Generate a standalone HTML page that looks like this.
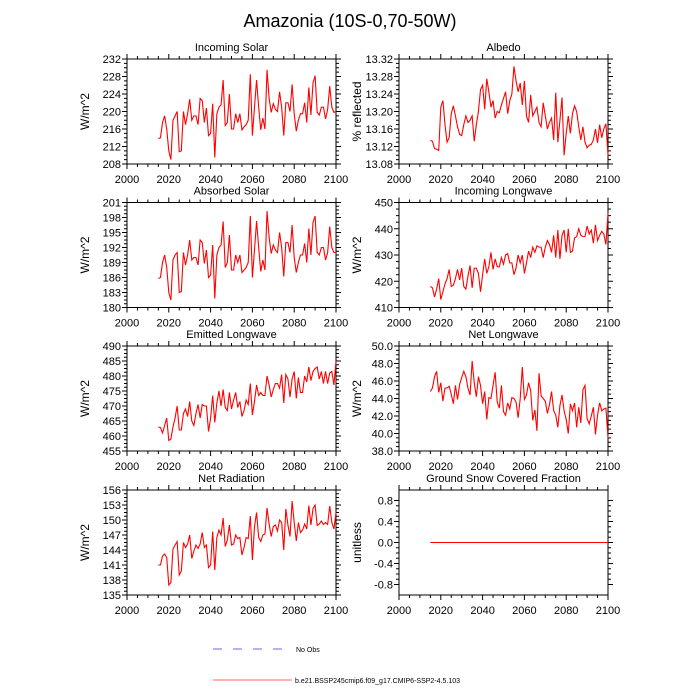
<!DOCTYPE html>
<html><head><meta charset="utf-8"><style>
body{margin:0;background:#fff;}
svg{display:block;font-family:"Liberation Sans",sans-serif;}
</style></head><body>
<svg id="c" width="700" height="700" viewBox="0 0 700 700">
<text x="350" y="27" font-size="18" text-anchor="middle">Amazonia (10S-0,70-50W)</text>
<g>
<line x1="213" y1="649" x2="288" y2="649" stroke="#6666ee" stroke-width="1" stroke-dasharray="9,11"/>
<text x="296" y="652" font-size="7">No Obs</text>
<line x1="213" y1="680" x2="292" y2="680" stroke="#ff6666" stroke-width="1"/>
<text x="295" y="683" font-size="7">b.e21.BSSP245cmip6.f09_g17.CMIP6-SSP2-4.5.103</text>
</g>
</svg>
<script>
const startYear = 2015;
const xTicks = [2000, 2020, 2040, 2060, 2080, 2100];
const incomingSolar = [213.8,214,217.5,219,216,211,209,218,219,220,210.8,211,220,217,219.5,222.8,218,219,219,217,223,222.5,217.5,220.8,214.5,215,221.8,209.5,219.5,221,221.5,227.2,216.8,217.5,224,216,216,219.5,217.5,219.5,215.8,216.5,217,218,228.5,214.5,221,227.2,221,215.8,218.5,216,229.5,223,219.8,221.8,220.5,220,224.5,221,214.5,222,222,220,226.2,219.5,215.5,218,219.5,219.5,222,217.5,225.5,219.2,226.5,228.2,219.8,219.2,221,221,218.3,220.5,225.8,221,219.8,220];
const albedo = [13.134,13.132,13.115,13.114,13.111,13.21,13.225,13.17,13.13,13.14,13.195,13.213,13.19,13.165,13.148,13.145,13.17,13.19,13.175,13.18,13.19,13.132,13.17,13.2,13.25,13.26,13.205,13.275,13.245,13.21,13.225,13.185,13.2,13.197,13.215,13.23,13.245,13.195,13.225,13.24,13.303,13.27,13.245,13.265,13.215,13.27,13.19,13.175,13.238,13.19,13.2,13.21,13.175,13.165,13.22,13.19,13.16,13.175,13.185,13.135,13.243,13.13,13.18,13.232,13.1,13.15,13.19,13.15,13.195,13.213,13.2,13.165,13.135,13.165,13.13,13.117,13.123,13.125,13.135,13.16,13.128,13.17,13.14,13.16,13.172,13.1];
const absorbedSolar = [185.8,186,189,190.5,188,183,181.5,189.5,190.5,191,183,183.2,191,188.5,190.5,193.5,189.5,190,190,188.5,193.5,193,188.8,191.5,186,186.5,192.5,181.8,190.5,192,192.5,197.2,188,189,194.5,187.5,187.5,190.5,189,190.5,187,187.5,188,189,198.3,186,191.5,197.3,192,187.2,189.5,187.5,199.3,194,190.8,192.5,191.5,191,195,192,186.2,193,193,191,196.5,190,187,189,190.5,190.5,192.8,189,195.8,190.5,197,198.3,191,190.5,192,192,189.5,191,196.2,192,191,191];
const incomingLW = [418,417.5,414,417,421,413,416,419,421,424.5,418,418.5,421,424.5,420.5,425,418,417,422,426,417.5,425,425,423,416,422.5,428.5,423,425.5,431,424.5,428.5,425.5,425.5,429,426.5,430,430.5,427,427,422.5,425,430,427,430,423,427,431.5,429,433,431,433.5,433,433,429,433,435.5,434,431,437.5,429,439.5,428.5,437.5,439.5,431,440,431,431.5,436.5,437,440,437.5,437,437,441,438,439.5,434.5,441.5,435.5,437.5,439,438,434,446];
const emittedLW = [463,462.8,461,463.5,466,458.5,459,463,466,470,462,462,467.5,469,466.5,471.5,465,463.5,467.5,470.5,466,470.5,470,470,461.5,466,473.5,464.5,471,475,470,475.5,469.5,468.5,474.5,469,472,474.5,469.5,471.5,466.5,468.5,472,470.5,477.5,467,471.5,477,473.5,474.5,473.5,473.5,480,477,473,475.5,477.5,477.5,476,480.5,471,480.5,479,473,479,481.5,472.5,479.5,474.5,474.5,480,478,483,478.5,481.5,482.5,483,479,481.5,477.5,481.5,477.5,481,481.5,477,485];
const netLW = [44.8,45.2,46.5,47.1,44.7,45.8,43.7,45.2,45.2,45.4,44.5,43.4,45.5,43.9,45.6,46.4,47.1,46.5,45.2,44.4,48.3,45.8,44.2,46.5,45.5,43.4,44.8,41.6,44.1,44.0,45.5,47.0,43.6,42.9,45.5,42.5,42.1,43.5,42.8,44.1,44.0,43.6,41.8,44.0,47.6,43.9,44.4,45.8,44.9,41.5,42.7,40.3,46.9,44.3,44.0,43.7,42.3,43.3,44.8,42.6,42.1,40.7,43.2,44.4,42.6,41.6,40.0,43.4,42.6,43.5,40.7,43.0,41.2,45.0,45.5,41.7,41.1,42.0,43.0,39.9,42.1,43.5,42.6,42.8,42.9,39.5];
const netRadiation = [141,141,142.8,143.2,142.5,137,137.5,144.2,145,145.7,139,139.8,145.5,144.5,145.2,147,142.3,143.8,145,144.3,145.2,147.5,144.5,145,140.5,141,147.7,140,146.5,148,147,150.4,144.7,146,149,145,145.2,147,146.3,146.5,143,144.5,146.5,146.3,150.8,142,148.7,151.5,146.5,145.7,147,147.2,152.4,149.2,146.7,148.7,149,147.8,150,149.5,144,152.2,149,146.7,153.8,149.5,145.8,149.5,147.5,148,149.2,148.2,152.9,149,152.3,153,148.9,149.2,149.8,149.1,149.5,149.1,152.8,149.5,148.2,151.5];
const snowFraction = new Array(86).fill(0);

const panels = [
 {name:'incoming-solar', title:'Incoming Solar', ylab:'W/m^2', data:incomingSolar, ymin:208, ymax:232, ticks:[208,212,216,220,224,228,232], dec:0, col:0, row:0},
 {name:'albedo', title:'Albedo', ylab:'% reflected', data:albedo, ymin:13.08, ymax:13.32, ticks:[13.08,13.12,13.16,13.20,13.24,13.28,13.32], dec:2, col:1, row:0},
 {name:'absorbed-solar', title:'Absorbed Solar', ylab:'W/m^2', data:absorbedSolar, ymin:180, ymax:201, ticks:[180,183,186,189,192,195,198,201], dec:0, col:0, row:1},
 {name:'incoming-longwave', title:'Incoming Longwave', ylab:'W/m^2', data:incomingLW, ymin:410, ymax:450, ticks:[410,420,430,440,450], dec:0, col:1, row:1},
 {name:'emitted-longwave', title:'Emitted Longwave', ylab:'W/m^2', data:emittedLW, ymin:455, ymax:490, ticks:[455,460,465,470,475,480,485,490], dec:0, col:0, row:2},
 {name:'net-longwave', title:'Net Longwave', ylab:'W/m^2', data:netLW, ymin:38, ymax:50, ticks:[38,40,42,44,46,48,50], dec:1, col:1, row:2},
 {name:'net-radiation', title:'Net Radiation', ylab:'W/m^2', data:netRadiation, ymin:135, ymax:156, ticks:[135,138,141,144,147,150,153,156], dec:0, col:0, row:3},
 {name:'ground-snow', title:'Ground Snow Covered Fraction', ylab:'unitless', data:snowFraction, ymin:-1, ymax:1, ticks:[-0.8,-0.4,0,0.4,0.8], dec:1, col:1, row:3}
];
const colX = [127, 399], W = 209, H = 105;
const rowY = [59, 202.5, 346, 490];
const svg = document.getElementById('c');
const NS = 'http://www.w3.org/2000/svg';
function mk(tag, attrs, parent){ const e=document.createElementNS(NS,tag); for(const k in attrs) e.setAttribute(k,attrs[k]); parent.appendChild(e); return e; }

panels.forEach(p=>{
  const x0=colX[p.col], y0=rowY[p.row];
  const g=mk('g',{},svg);
  
  
  const sx=v=>x0+(v-2000)/100*W;
  const sy=v=>y0+H-(v-p.ymin)/(p.ymax-p.ymin)*H;
  for(let yr=2000; yr<=2100; yr+=5){
    const maj = yr%20===0, L = maj?5:3;
    const x=sx(yr);
    mk('line',{x1:x,y1:y0,x2:x,y2:y0-L,stroke:'#000','stroke-width':1},g);
    mk('line',{x1:x,y1:y0+H,x2:x,y2:y0+H+L,stroke:'#000','stroke-width':1},g);
  }
  const step=p.ticks[1]-p.ticks[0];
  for(let i=0;i<p.ticks.length-1;i++){
    for(let k=1;k<4;k++){
      const y=sy(p.ticks[i]+step*k/4);
      mk('line',{x1:x0,y1:y,x2:x0-3,y2:y,stroke:'#000','stroke-width':1},g);
      mk('line',{x1:x0+W,y1:y,x2:x0+W+3,y2:y,stroke:'#000','stroke-width':1},g);
    }
  }
  p.ticks.forEach(t=>{
    const y=sy(t);
    mk('line',{x1:x0,y1:y,x2:x0-5,y2:y,stroke:'#000','stroke-width':1},g);
    mk('line',{x1:x0+W,y1:y,x2:x0+W+5,y2:y,stroke:'#000','stroke-width':1},g);
    const tx=mk('text',{x:x0-6,y:y+4,'font-size':11,'text-anchor':'end'},g);
    tx.textContent=t.toFixed(p.dec);
    
    
  });
  xTicks.forEach(t=>{
    const tx=mk('text',{x:sx(t),y:y0+H+19,'font-size':11,'text-anchor':'middle'},g);
    tx.textContent=t;
    
    
  });
  const box=mk('rect',{x:x0,y:y0,width:W,height:H,fill:'none',stroke:'#000','stroke-width':1},g);
  
  
  const title=mk('text',{x:x0+W/2,y:y0-8,'font-size':11,'text-anchor':'middle'},g);
  title.textContent=p.title;
  
  
  const lx = x0-38;
  const yl=mk('text',{x:lx,y:y0+H/2,'font-size':12,'text-anchor':'middle',transform:`rotate(-90 ${lx} ${y0+H/2})`},g);
  yl.textContent=p.ylab;
  
  
  const pts=p.data.map((v,i)=>sx(startYear+i).toFixed(2)+','+sy(v).toFixed(2)).join(' ');
  const line=mk('polyline',{points:pts,fill:'none',stroke:'#ff0000','stroke-width':1.1},g);
  
  
});
</script>
</body></html>
